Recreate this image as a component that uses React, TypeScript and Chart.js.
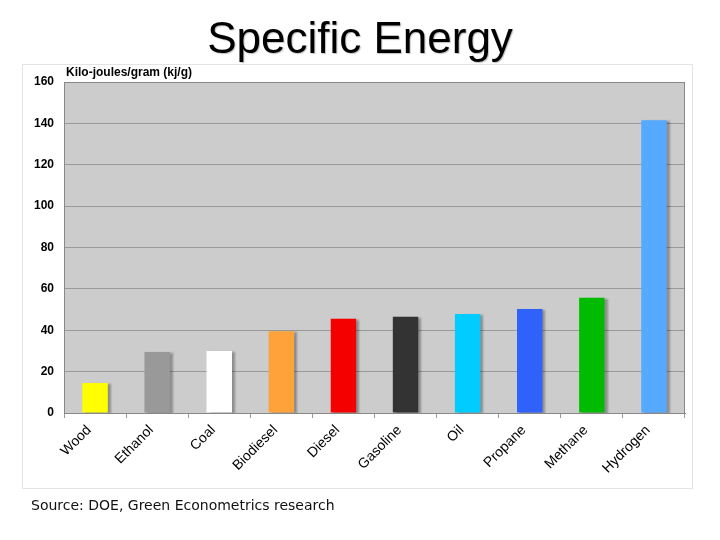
import React, { useEffect, useRef } from "react";
import { Chart, registerables } from "chart.js";

Chart.register(...registerables);

const categories = ["Wood", "Ethanol", "Coal", "Biodiesel", "Diesel", "Gasoline", "Oil", "Propane", "Methane", "Hydrogen"];
const values = [14.5, 29.5, 30, 39.5, 45.5, 46.5, 47.8, 50.3, 55.7, 141.5];
const colors = ["#ffff00", "#999999", "#ffffff", "#ffa23a", "#f50000", "#333333", "#00ccff", "#2e62fb", "#00bb00", "#55aaff"];
const titleText = "Specific Energy";
const axisTitle = "Kilo-joules/gram (kj/g)";
const sourceText = "Source: DOE, Green Econometrics research";

const decorPlugin = {
  id: "decor",
  beforeDraw(chart: any) {
    const ctx = chart.ctx;
    const a = chart.chartArea;
    ctx.save();
    ctx.fillStyle = "#ffffff";
    ctx.fillRect(0, 0, chart.width, chart.height);
    // panel
    ctx.fillStyle = "#ffffff";
    ctx.strokeStyle = "#e4e4e4";
    ctx.lineWidth = 1;
    ctx.fillRect(22.5, 64.5, 670, 424);
    ctx.strokeRect(22.5, 64.5, 670, 424);
    // plot bg
    ctx.fillStyle = "#cccccc";
    ctx.fillRect(a.left, a.top, a.right - a.left, a.bottom - a.top);
    // title
    ctx.fillStyle = "#000000";
    ctx.font = '44px "Liberation Sans", Arial, sans-serif';
    ctx.textAlign = "center";
    ctx.textBaseline = "alphabetic";
    ctx.shadowColor = "rgba(0,0,0,0.25)";
    ctx.shadowOffsetX = 1;
    ctx.shadowOffsetY = 1;
    ctx.shadowBlur = 1;
    ctx.fillText(titleText, 360, 53);
    ctx.shadowColor = "transparent";
    // axis title
    ctx.font = 'bold 12px "Liberation Sans", Arial, sans-serif';
    ctx.textAlign = "left";
    ctx.textBaseline = "middle";
    ctx.fillText(axisTitle, 66, 73);
    // source
    ctx.font = '14px "DejaVu Sans", Verdana, sans-serif';
    ctx.fillStyle = "#111111";
    ctx.textBaseline = "alphabetic";
    ctx.fillText(sourceText, 31, 510);
    ctx.restore();
  },
  beforeDatasetsDraw(chart: any) {
    const ctx = chart.ctx;
    ctx.save();
    ctx.shadowColor = "rgba(0,0,0,0.3)";
    ctx.shadowOffsetX = 3;
    ctx.shadowOffsetY = 1;
    ctx.shadowBlur = 2;
  },
  afterDatasetsDraw(chart: any) {
    chart.ctx.restore();
    const ctx = chart.ctx;
    const a = chart.chartArea;
    ctx.save();
    ctx.strokeStyle = "#888888";
    ctx.lineWidth = 1;
    ctx.strokeRect(a.left + 0.5, a.top + 0.5, a.right - a.left - 1, a.bottom - a.top);
    ctx.restore();
  },
};

export default function App() {
  const ref = useRef<HTMLCanvasElement>(null);
  useEffect(() => {
    const chart = new Chart(ref.current as HTMLCanvasElement, {
      type: "bar",
      data: {
        labels: categories,
        datasets: [
          {
            data: values,
            backgroundColor: colors,
            borderWidth: 0,
            barPercentage: 0.41,
            categoryPercentage: 1,
          },
        ],
      },
      options: {
        animation: false,
        responsive: false,
        devicePixelRatio: 1,
        layout: { padding: { left: 0, right: 35, top: 82, bottom: 0 } },
        plugins: { legend: { display: false }, title: { display: false }, tooltip: { enabled: false } },
        scales: {
          x: {
            offset: true,
            afterFit: (s: any) => { s.height = 127; },
            grid: { offset: true, drawOnChartArea: false, drawTicks: true, tickLength: 5, color: "#999999" },
            border: { color: "#888888" },
            ticks: {
              minRotation: 45,
              maxRotation: 45,
              padding: 4,
              labelOffset: -6,
              color: "#000000",
              font: { family: '"Liberation Sans", Arial, sans-serif', size: 14, weight: "normal" },
            },
          },
          y: {
            min: 0,
            max: 160,
            afterFit: (s: any) => { s.width = 64; },
            grid: { color: "#999999", drawTicks: false },
            border: { color: "#888888" },
            ticks: {
              stepSize: 20,
              padding: 10,
              color: "#000000",
              font: { family: '"Liberation Sans", Arial, sans-serif', size: 12, weight: "bold" },
            },
          },
        },
      },
      plugins: [decorPlugin],
    } as any);
    return () => chart.destroy();
  }, []);
  return (
    <canvas
      ref={ref}
      width={720}
      height={540}
      style={{ position: "fixed", left: 0, top: 0, width: 720, height: 540 }}
    />
  );
}
